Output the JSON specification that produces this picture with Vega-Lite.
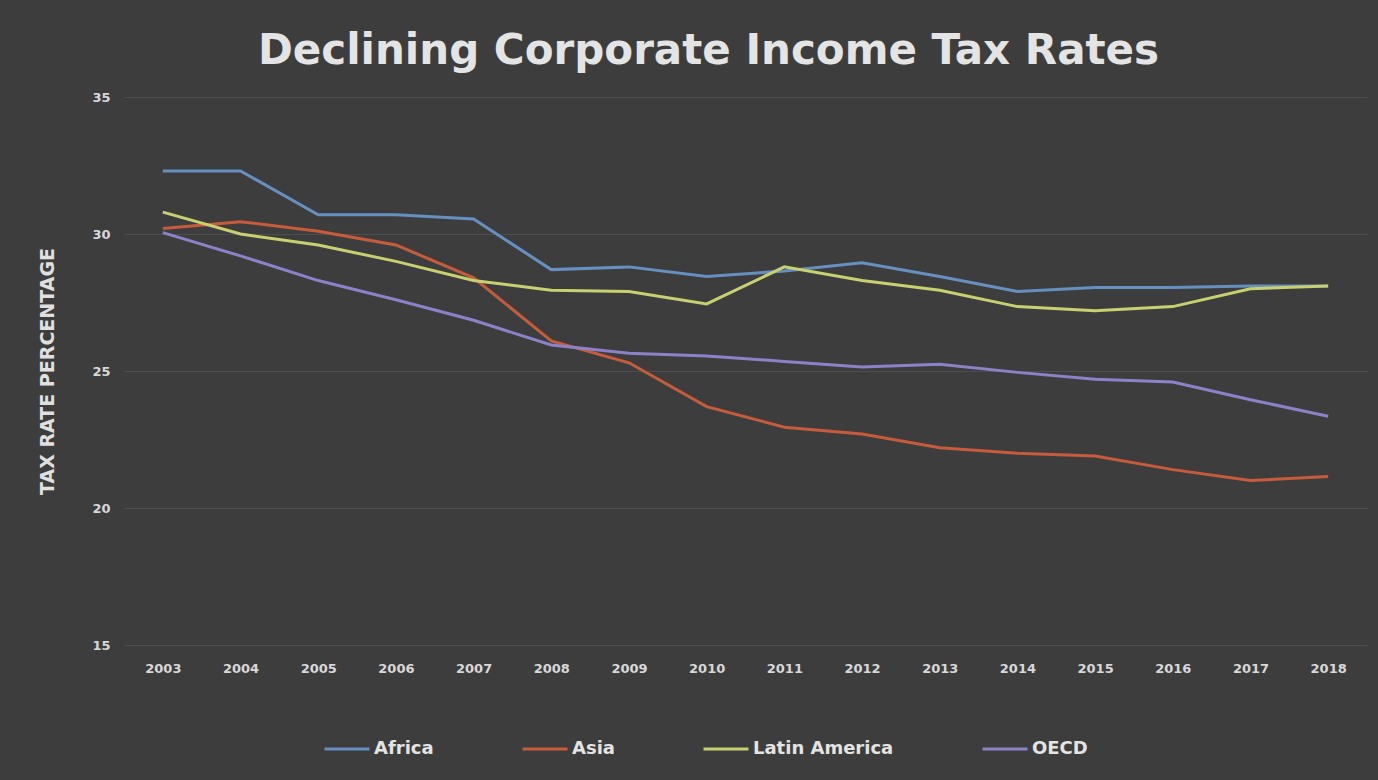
{
  "$schema": "https://vega.github.io/schema/vega-lite/v6.json",
  "autosize": "none",
  "width": 1243,
  "height": 548,
  "padding": {"left": 124, "top": 97, "right": 11, "bottom": 135},
  "background": "#3d3d3d",
  "title": {
    "text": "Declining Corporate Income Tax Rates",
    "fontSize": 42,
    "font": "DejaVu Sans",
    "fontWeight": "bold",
    "color": "#e4e4e4",
    "anchor": "middle",
    "dx": -37,
    "offset": 18
  },
  "config": {
    "view": {"stroke": null},
    "font": "DejaVu Sans"
  },
  "data": {
    "values": [
      {"year": "2003", "region": "Africa", "rate": 32.3},
      {"year": "2004", "region": "Africa", "rate": 32.3},
      {"year": "2005", "region": "Africa", "rate": 30.7},
      {"year": "2006", "region": "Africa", "rate": 30.7},
      {"year": "2007", "region": "Africa", "rate": 30.55},
      {"year": "2008", "region": "Africa", "rate": 28.7},
      {"year": "2009", "region": "Africa", "rate": 28.8},
      {"year": "2010", "region": "Africa", "rate": 28.45},
      {"year": "2011", "region": "Africa", "rate": 28.65},
      {"year": "2012", "region": "Africa", "rate": 28.95},
      {"year": "2013", "region": "Africa", "rate": 28.45},
      {"year": "2014", "region": "Africa", "rate": 27.9},
      {"year": "2015", "region": "Africa", "rate": 28.05},
      {"year": "2016", "region": "Africa", "rate": 28.05},
      {"year": "2017", "region": "Africa", "rate": 28.1},
      {"year": "2018", "region": "Africa", "rate": 28.1},
      {"year": "2003", "region": "Asia", "rate": 30.2},
      {"year": "2004", "region": "Asia", "rate": 30.45},
      {"year": "2005", "region": "Asia", "rate": 30.1},
      {"year": "2006", "region": "Asia", "rate": 29.6},
      {"year": "2007", "region": "Asia", "rate": 28.4},
      {"year": "2008", "region": "Asia", "rate": 26.1},
      {"year": "2009", "region": "Asia", "rate": 25.3},
      {"year": "2010", "region": "Asia", "rate": 23.7},
      {"year": "2011", "region": "Asia", "rate": 22.95},
      {"year": "2012", "region": "Asia", "rate": 22.7},
      {"year": "2013", "region": "Asia", "rate": 22.2},
      {"year": "2014", "region": "Asia", "rate": 22.0},
      {"year": "2015", "region": "Asia", "rate": 21.9},
      {"year": "2016", "region": "Asia", "rate": 21.4},
      {"year": "2017", "region": "Asia", "rate": 21.0},
      {"year": "2018", "region": "Asia", "rate": 21.15},
      {"year": "2003", "region": "Latin America", "rate": 30.8},
      {"year": "2004", "region": "Latin America", "rate": 30.0},
      {"year": "2005", "region": "Latin America", "rate": 29.6},
      {"year": "2006", "region": "Latin America", "rate": 29.0},
      {"year": "2007", "region": "Latin America", "rate": 28.3},
      {"year": "2008", "region": "Latin America", "rate": 27.95},
      {"year": "2009", "region": "Latin America", "rate": 27.9},
      {"year": "2010", "region": "Latin America", "rate": 27.45},
      {"year": "2011", "region": "Latin America", "rate": 28.8},
      {"year": "2012", "region": "Latin America", "rate": 28.3},
      {"year": "2013", "region": "Latin America", "rate": 27.95},
      {"year": "2014", "region": "Latin America", "rate": 27.35},
      {"year": "2015", "region": "Latin America", "rate": 27.2},
      {"year": "2016", "region": "Latin America", "rate": 27.35},
      {"year": "2017", "region": "Latin America", "rate": 28.0},
      {"year": "2018", "region": "Latin America", "rate": 28.1},
      {"year": "2003", "region": "OECD", "rate": 30.05},
      {"year": "2004", "region": "OECD", "rate": 29.2},
      {"year": "2005", "region": "OECD", "rate": 28.3},
      {"year": "2006", "region": "OECD", "rate": 27.6},
      {"year": "2007", "region": "OECD", "rate": 26.85},
      {"year": "2008", "region": "OECD", "rate": 25.95},
      {"year": "2009", "region": "OECD", "rate": 25.65},
      {"year": "2010", "region": "OECD", "rate": 25.55},
      {"year": "2011", "region": "OECD", "rate": 25.35},
      {"year": "2012", "region": "OECD", "rate": 25.15},
      {"year": "2013", "region": "OECD", "rate": 25.25},
      {"year": "2014", "region": "OECD", "rate": 24.95},
      {"year": "2015", "region": "OECD", "rate": 24.7},
      {"year": "2016", "region": "OECD", "rate": 24.6},
      {"year": "2017", "region": "OECD", "rate": 23.95},
      {"year": "2018", "region": "OECD", "rate": 23.35}
    ]
  },
  "mark": {"type": "line", "strokeWidth": 3},
  "encoding": {
    "x": {
      "field": "year",
      "type": "ordinal",
      "scale": {"type": "point", "padding": 0.5},
      "axis": {
        "title": null,
        "labelAngle": 0,
        "ticks": false,
        "domain": false,
        "grid": false,
        "labelPadding": 17,
        "labelFontSize": 13,
        "labelFontWeight": "bold",
        "labelColor": "#d8d8d8"
      }
    },
    "y": {
      "field": "rate",
      "type": "quantitative",
      "scale": {"domain": [15, 35], "nice": false, "zero": false},
      "axis": {
        "title": "TAX RATE PERCENTAGE",
        "titleFontSize": 19,
        "titleFontWeight": "bold",
        "titleColor": "#e0e0e0",
        "titlePadding": 34,
        "values": [15, 20, 25, 30, 35],
        "ticks": false,
        "domain": false,
        "grid": true,
        "gridColor": "#4e4e4e",
        "gridWidth": 1,
        "labelPadding": 14,
        "labelFontSize": 13,
        "labelFontWeight": "bold",
        "labelColor": "#d8d8d8"
      }
    },
    "color": {
      "field": "region",
      "type": "nominal",
      "scale": {
        "domain": ["Africa", "Asia", "Latin America", "OECD"],
        "range": ["#6690c0", "#c65c3c", "#c8d070", "#8c82c8"]
      },
      "legend": {
        "title": null,
        "orient": "none",
        "legendX": 199,
        "legendY": 628,
        "direction": "horizontal",
        "symbolType": "stroke",
        "symbolStrokeWidth": 3,
        "symbolSize": 2025,
        "labelFontSize": 18,
        "labelFontWeight": "bold",
        "labelColor": "#e4e4e4",
        "labelOffset": 3,
        "columnPadding": 82
      }
    }
  }
}
